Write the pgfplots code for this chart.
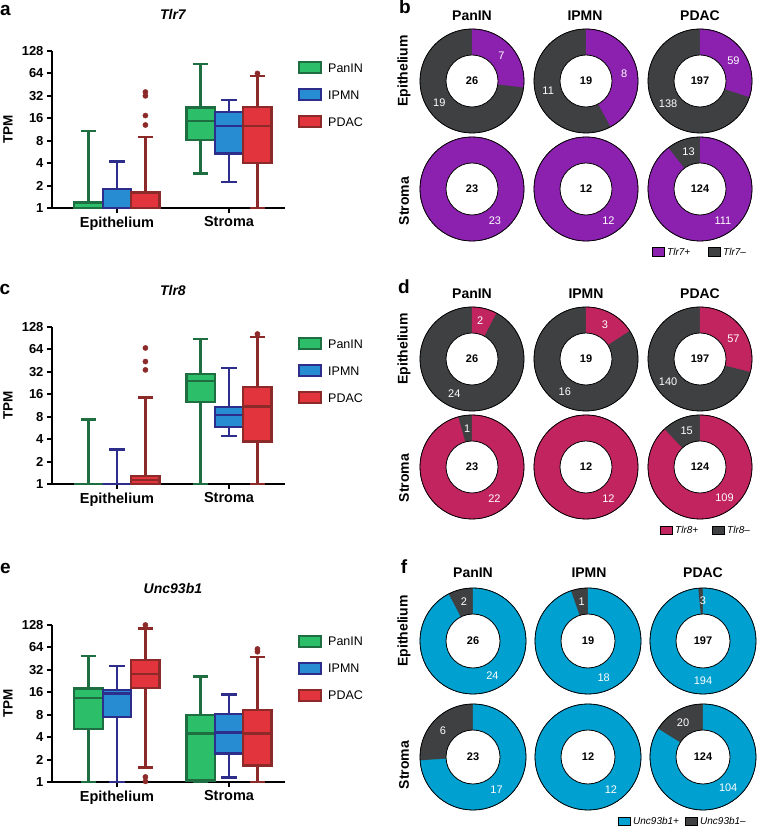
\documentclass[border=0pt]{standalone}
\usepackage{fontspec}
\setmainfont{Liberation Sans}
\usepackage{pgfplots}
\pgfplotsset{compat=1.18}

\newcommand\fs[1]{\fontsize{#1}{#1}\selectfont}

\definecolor{grF}{RGB}{45,190,105}
\definecolor{grE}{RGB}{30,110,65}
\definecolor{blF}{RGB}{40,140,210}
\definecolor{blE}{RGB}{45,45,140}
\definecolor{rdF}{RGB}{225,52,60}
\definecolor{rdE}{RGB}{140,42,42}
\definecolor{tlrSeven}{RGB}{140,32,175}
\definecolor{tlrEight}{RGB}{194,36,96}
\definecolor{uncC}{RGB}{0,160,208}
\definecolor{dgray}{RGB}{62,64,66}

\pgfdeclareplotmark{blank}{}

% drawn at each point: colour, outer r, inner r, label r
\newcommand\donut[4]{%
  \pgfmathtruncatemacro\ipos{\npos}\pgfmathtruncatemacro\ineg{\nneg}%
  \pgfmathsetmacro\dang{\ipos/(\ipos+\ineg)*360}%
  \pgfmathtruncatemacro\dtot{\ipos+\ineg}%
  \fill[dgray] (0pt,0pt) circle[radius=#2];%
  \ifnum\ipos>0 \fill[#1] (0pt,0pt) -- (90:#2) arc[start angle=90, delta angle=-\dang, radius=#2] -- cycle;\fi
  \draw[line width=0.8pt] (0pt,0pt) circle[radius=#2];%
  \draw[line width=0.8pt, fill=white] (0pt,0pt) circle[radius=#3];%
  \node[font=\bfseries\fs{11}] at (0pt,0pt) {\dtot};%
  \ifnum\ipos>0 \node[white, font=\fs{11}] at (\pang:#4) {\ipos};\fi
  \ifnum\ineg>0 \node[white, font=\fs{11}] at (\nang:#4) {\ineg};\fi
}

% one box: position, lower whisker, lower quartile, median, upper quartile, upper whisker, colour key
\newcommand\tpmbox[7]{%
  \pgfmathsetmacro\bxl{#1-0.127}\pgfmathsetmacro\bxr{#1+0.127}%
  \pgfmathsetmacro\cpl{#1-0.0675}\pgfmathsetmacro\cpr{#1+0.0675}%
  \addplot[wh#7] coordinates {(#1,#2) (#1,#3)};
  \addplot[wh#7] coordinates {(#1,#5) (#1,#6)};
  \addplot[wh#7] coordinates {(\cpl,#2) (\cpr,#2)};
  \addplot[wh#7] coordinates {(\cpl,#6) (\cpr,#6)};
  \addplot[bx#7] coordinates {(\bxl,#3) (\bxr,#3) (\bxr,#5) (\bxl,#5)} -- cycle;
  \addplot[wh#7] coordinates {(\bxl,#4) (\bxr,#4)};
}

\pgfplotsset{
  boxaxis/.style={
    width=233pt, height=157pt, scale only axis,
    xmin=0.42, xmax=2.5, ymin=1, ymax=128,
    axis x line*=bottom, axis y line*=left,
    axis line style={line width=2.2pt},
    xtick={1,2}, xticklabels={Epithelium,Stroma},
    ytick={1,2,4,8,16,32,64,128}, yticklabels={1,2,4,8,16,32,64,128},
    minor tick num=0,
    tick align=outside, major tick length=5pt,
    tick style={line width=2pt, black},
    yticklabel style={font=\bfseries\fs{13}},
    xticklabel style={font=\bfseries\fs{14.5}},
    ylabel={TPM},
    ylabel style={font=\bfseries\fs{13.5}, at={(axis description cs:-0.189,0.5)}, anchor=center},
    title style={font=\bfseries\itshape\fs{14}, at={(axis description cs:0.519,1.197)}, anchor=center},
    clip=false,
  },
  whg/.style={draw=grE, line width=2.4pt, mark=none, forget plot},
  whb/.style={draw=blE, line width=2.4pt, mark=none, forget plot},
  whr/.style={draw=rdE, line width=2.4pt, mark=none, forget plot},
  bxg/.style={draw=grE, fill=grF, line width=2.4pt, mark=none, forget plot},
  bxb/.style={draw=blE, fill=blF, line width=2.4pt, mark=none, forget plot},
  bxr/.style={draw=rdE, fill=rdF, line width=2.4pt, mark=none, forget plot},
  outr/.style={only marks, mark=*, mark size=2.6pt, draw=rdE, fill=rdE, forget plot},
  donutaxis/.style={hide axis, scale only axis, clip=false,
    xmin=0.5, xmax=3.5, ymin=0.5, ymax=2.5},
  donutplot/.style={scatter, only marks, mark=blank,
    visualization depends on={\thisrow{pos}\as\npos},
    visualization depends on={\thisrow{neg}\as\nneg},
    visualization depends on={\thisrow{pa}\as\pang},
    visualization depends on={\thisrow{na}\as\nang},
    scatter/@post marker code/.code={}},
}

% legend beside a box panel: top swatch centre y
\newcommand\boxlegend[1]{%
  \begin{scope}[shift={(0pt,#1)}]
  \draw[draw=grE, fill=grF, line width=2pt] (299pt,-5.5pt) rectangle (321pt,5.5pt);
  \draw[draw=blE, fill=blF, line width=2pt] (299pt,-32.5pt) rectangle (321pt,-21.5pt);
  \draw[draw=rdE, fill=rdF, line width=2pt] (299pt,-59.5pt) rectangle (321pt,-48.5pt);
  \node[anchor=west, inner sep=0pt, font=\fs{12.5}] at (328pt,0pt) {PanIN};
  \node[anchor=west, inner sep=0pt, font=\fs{12.5}] at (328pt,-27pt) {IPMN};
  \node[anchor=west, inner sep=0pt, font=\fs{12.5}] at (328pt,-54pt) {PDAC};
  \end{scope}
}

\begin{document}
\begin{tikzpicture}
\path[use as bounding box] (0pt,0pt) rectangle (758pt,826pt);

% ---------- a: Tlr7
\begin{axis}[boxaxis, ymode=log, log basis y=2, at={(52pt,618pt)}, anchor=south west, title={Tlr7}]
\tpmbox{0.746}{1}{1}{1}{1.19}{10.8}{g}
\tpmbox{1}{1}{1}{1}{1.8}{4.2}{b}
\tpmbox{1.254}{1}{1}{1}{1.62}{9.0}{r}
\addplot[outr] coordinates {(1.254,36) (1.254,32) (1.254,17.4) (1.254,13)};
\tpmbox{1.746}{2.9}{8.1}{14.8}{22.3}{85}{g}
\tpmbox{2}{2.25}{5.4}{12.7}{19.5}{28}{b}
\tpmbox{2.254}{1}{4.0}{12.7}{22.6}{59}{r}
\addplot[outr] coordinates {(2.254,64)};
\end{axis}

% ---------- c: Tlr8
\begin{axis}[boxaxis, ymode=log, log basis y=2, at={(52pt,342pt)}, anchor=south west, title={Tlr8}]
\tpmbox{0.746}{1}{1}{1}{1}{7.3}{g}
\tpmbox{1}{1}{1}{1}{1}{2.9}{b}
\tpmbox{1.254}{1}{1}{1.14}{1.29}{14.5}{r}
\addplot[outr] coordinates {(1.254,34) (1.254,44) (1.254,67)};
\tpmbox{1.746}{1}{12.6}{24}{30}{88}{g}
\tpmbox{2}{4.4}{5.8}{8.5}{10.8}{36}{b}
\tpmbox{2.254}{1}{3.7}{11}{20}{94}{r}
\addplot[outr] coordinates {(2.254,103)};
\end{axis}

% ---------- e: Unc93b1
\begin{axis}[boxaxis, ymode=log, log basis y=2, at={(52pt,44pt)}, anchor=south west, title={Unc93b1}]
\tpmbox{0.746}{1}{5.1}{13.3}{17.9}{49}{g}
\tpmbox{1}{1}{7.5}{15.4}{17.3}{36}{b}
\tpmbox{1.254}{1.57}{18.2}{28}{43.6}{115}{r}
\addplot[outr] coordinates {(1.254,128) (1.254,1.17) (1.254,1.02)};
\tpmbox{1.746}{1}{1.05}{4.5}{8.0}{26}{g}
\tpmbox{2}{1.15}{2.4}{4.6}{8.2}{15}{b}
\tpmbox{2.254}{1}{1.67}{4.5}{9.2}{48}{r}
\addplot[outr] coordinates {(2.254,61) (2.254,56)};
\end{axis}

\boxlegend{758pt}
\boxlegend{482pt}
\boxlegend{184.5pt}

% ---------- b, d, f: donuts (column, row, positive, negative, label angles)
\begin{axis}[donutaxis, width=342pt, height=216pt, at={(415pt,583pt)}, anchor=south west]
\addplot[donutplot, scatter/@pre marker code/.code={\donut{tlrSeven}{52pt}{26pt}{39pt}}]
table[x=x, y=y] {
x y pos neg pa na
1 2 7 19 41 -147
2 2 8 11 11 -166
3 2 59 138 31 -145
1 1 23 0 -54 0
2 1 12 0 -55 0
3 1 111 13 -54 107
};
\end{axis}
\begin{axis}[donutaxis, width=342pt, height=216pt, at={(415pt,305pt)}, anchor=south west]
\addplot[donutplot, scatter/@pre marker code/.code={\donut{tlrEight}{52pt}{26pt}{39pt}}]
table[x=x, y=y] {
x y pos neg pa na
1 2 2 24 78 -117
2 2 3 16 61 -123
3 2 57 140 31 -145
1 1 22 1 -55 97
2 1 12 0 -55 0
3 1 109 15 -51 110
};
\end{axis}
\begin{axis}[donutaxis, width=345pt, height=232pt, at={(415.5pt,11pt)}, anchor=south west]
\addplot[donutplot, scatter/@pre marker code/.code={\donut{uncC}{53pt}{27pt}{40pt}}]
table[x=x, y=y] {
x y pos neg pa na
1 2 24 2 -61 103
2 2 18 1 -67 99
3 2 194 3 -90 90
1 1 17 6 -54 139
2 1 12 0 -55 0
3 1 104 20 -51 120
};
\end{axis}

% panel letters
\begin{scope}[every node/.style={font=\bfseries\fs{19}, inner sep=0pt}]
\node at (5.5pt,816pt) {a};
\node at (5pt,536.5pt) {c};
\node at (5.5pt,258pt) {e};
\node at (405pt,819pt) {b};
\node at (404pt,539pt) {d};
\node at (404pt,259pt) {f};
\end{scope}

% donut headers and row names
\begin{scope}[every node/.style={font=\bfseries\fs{14}, inner sep=0pt}]
\node at (472pt,810pt) {PanIN}; \node at (585pt,810pt) {IPMN}; \node at (700pt,810pt) {PDAC};
\node at (472pt,532pt) {PanIN}; \node at (586pt,532pt) {IPMN}; \node at (700pt,532pt) {PDAC};
\node at (473pt,253pt) {PanIN}; \node at (589pt,253pt) {IPMN}; \node at (703pt,253pt) {PDAC};
\node[rotate=90] at (404pt,755pt) {Epithelium}; \node[rotate=90] at (404pt,625pt) {Stroma};
\node[rotate=90] at (404pt,477pt) {Epithelium}; \node[rotate=90] at (404pt,348pt) {Stroma};
\node[rotate=90] at (404pt,195pt) {Epithelium}; \node[rotate=90] at (404pt,61pt) {Stroma};
\end{scope}

% donut legends
\begin{scope}[every node/.style={font=\itshape\fs{10}, inner sep=0pt, anchor=west}]
\draw[line width=0.5pt, fill=tlrSeven] (652pt,570pt) rectangle (664pt,579pt);
\node at (667pt,574.5pt) {Tlr7+};
\draw[line width=0.5pt, fill=dgray] (708pt,570pt) rectangle (720pt,579pt);
\node at (723pt,574.5pt) {Tlr7–};
\draw[line width=0.5pt, fill=tlrEight] (660pt,292pt) rectangle (672pt,300pt);
\node at (675pt,296pt) {Tlr8+};
\draw[line width=0.5pt, fill=dgray] (712pt,292pt) rectangle (724pt,300pt);
\node at (727pt,296pt) {Tlr8–};
\draw[line width=0.5pt, fill=uncC] (618pt,1pt) rectangle (630pt,9pt);
\node at (633pt,5pt) {Unc93b1+};
\draw[line width=0.5pt, fill=dgray] (685pt,1pt) rectangle (697pt,9pt);
\node at (700pt,5pt) {Unc93b1–};
\end{scope}
\end{tikzpicture}
\end{document}
